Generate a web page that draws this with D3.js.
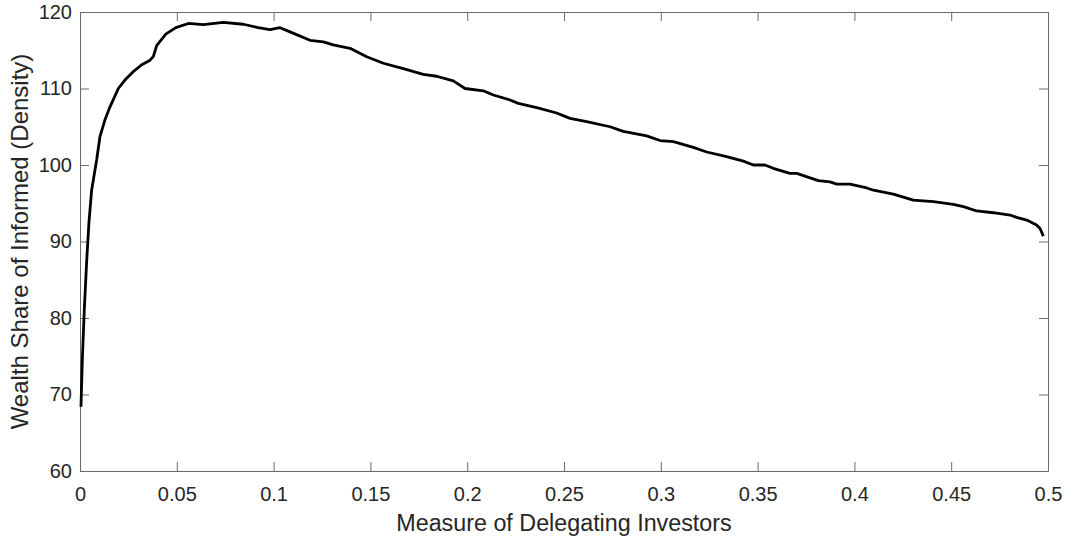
<!DOCTYPE html>
<html>
<head>
<meta charset="utf-8">
<script src="https://cdn.jsdelivr.net/npm/d3@7"></script>
<style>
  html, body { margin: 0; padding: 0; background: #fff; }
  svg { display: block; font-family: Arial, "Liberation Sans", sans-serif; }
</style>
</head>
<body>
<svg id="chart" width="1066" height="537"></svg>
<script>
// Measure of delegating investors (x) and wealth share of informed investors (y)
const delegating = [
  0.0005, 0.0012, 0.0022, 0.0034, 0.0046, 0.006, 0.0086, 0.0103, 0.0129, 0.0155,
  0.0198, 0.0232, 0.0275, 0.0319, 0.0362, 0.0379, 0.0396, 0.0443, 0.0495, 0.056,
  0.0637, 0.074, 0.0844, 0.0913, 0.0981, 0.1033, 0.1085, 0.1188, 0.1257, 0.1308,
  0.1395, 0.1481, 0.1567, 0.167, 0.1773, 0.1842, 0.1928, 0.1989, 0.2083, 0.2135,
  0.2221, 0.2264, 0.2359, 0.2462, 0.2531, 0.2617, 0.2738, 0.2806, 0.2927, 0.2996,
  0.3065, 0.3168, 0.3237, 0.334, 0.3426, 0.3478, 0.3538, 0.3581, 0.3667, 0.3702,
  0.3814, 0.3874, 0.3909, 0.3977, 0.4064, 0.4098, 0.4201, 0.4304, 0.4408, 0.4511,
  0.4563, 0.4632, 0.4717, 0.4804, 0.4838, 0.489, 0.4941, 0.4959, 0.4976
];
const wealthShare = [
  68.4, 74.5, 81.0, 87.2, 92.4, 96.7, 100.65, 103.7, 105.9, 107.6,
  110.0, 111.1, 112.2, 113.1, 113.7, 114.2, 115.6, 117.1, 117.95, 118.5,
  118.35, 118.65, 118.4, 118.0, 117.7, 117.95, 117.4, 116.3, 116.1, 115.7,
  115.25, 114.15, 113.3, 112.6, 111.85, 111.6, 111.0, 110.0, 109.7, 109.15,
  108.5, 108.06, 107.5, 106.8, 106.1, 105.66, 105.0, 104.4, 103.8, 103.2,
  103.05, 102.3, 101.7, 101.1, 100.5, 100.0, 100.0, 99.57, 98.9, 98.9,
  97.95, 97.8, 97.5, 97.5, 97.0, 96.7, 96.2, 95.4, 95.2, 94.86,
  94.55, 93.99, 93.76, 93.46, 93.16, 92.8, 92.16, 91.7, 90.7
];
const xTicks = [0, 0.05, 0.1, 0.15, 0.2, 0.25, 0.3, 0.35, 0.4, 0.45, 0.5];
const xTickLabels = ["0", "0.05", "0.1", "0.15", "0.2", "0.25", "0.3", "0.35", "0.4", "0.45", "0.5"];
const yTicks = [60, 70, 80, 90, 100, 110, 120];

const svg = d3.select("#chart");
const W = 1066, H = 537;
const margin = { top: 12, right: 18, bottom: 66, left: 80 };
const iw = W - margin.left - margin.right;
const ih = H - margin.top - margin.bottom;

const x = d3.scaleLinear().domain([0, 0.5]).range([0, iw]);
const y = d3.scaleLinear().domain([60, 120]).range([ih, 0]);

const g = svg.append("g").attr("transform", `translate(${margin.left},${margin.top})`);

const axisColor = "#6a6a6a";
const textColor = "#262626";
const tickLen = 9;

// Bottom and left axes with labels, inward ticks
const xAxis = g.append("g").attr("transform", `translate(0,${ih})`)
  .call(d3.axisBottom(x).tickValues(xTicks)
    .tickFormat((d, i) => xTickLabels[i])
    .tickSizeInner(-tickLen).tickSizeOuter(0).tickPadding(16));
const yAxis = g.append("g")
  .call(d3.axisLeft(y).tickValues(yTicks).tickFormat(d3.format("d"))
    .tickSizeInner(-tickLen).tickSizeOuter(0).tickPadding(8));

// Top and right axes: ticks only
const xTop = g.append("g")
  .call(d3.axisTop(x).tickValues(xTicks).tickFormat("")
    .tickSizeInner(-tickLen).tickSizeOuter(0));
const yRight = g.append("g").attr("transform", `translate(${iw},0)`)
  .call(d3.axisRight(y).tickValues(yTicks).tickFormat("")
    .tickSizeInner(-tickLen).tickSizeOuter(0));

[xAxis, yAxis, xTop, yRight].forEach(a => {
  a.selectAll("path.domain").attr("stroke", axisColor).attr("stroke-width", 1);
  a.selectAll(".tick line").attr("stroke", axisColor).attr("stroke-width", 1);
  a.selectAll(".tick text").attr("fill", textColor)
    .style("font-size", "20px").style("font-family", 'Arial, "Liberation Sans", sans-serif');
});

// Curve
const line = d3.line()
  .x((d, i) => x(delegating[i]))
  .y(d => y(d));

g.append("path")
  .datum(wealthShare)
  .attr("fill", "none")
  .attr("stroke", "#000")
  .attr("stroke-width", 2.8)
  .attr("stroke-linejoin", "round")
  .attr("d", line);

// Axis titles
svg.append("text")
  .attr("x", margin.left + iw / 2)
  .attr("y", 531)
  .attr("text-anchor", "middle")
  .attr("fill", textColor)
  .style("font-size", "23.3px")
  .text("Measure of Delegating Investors");

svg.append("text")
  .attr("transform", `translate(28,${margin.top + ih / 2}) rotate(-90)`)
  .attr("text-anchor", "middle")
  .attr("fill", textColor)
  .style("font-size", "24px")
  .text("Wealth Share of Informed (Density)");
</script>
</body>
</html>
